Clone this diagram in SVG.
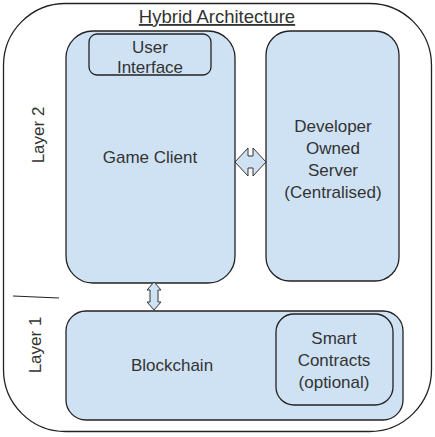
<svg xmlns="http://www.w3.org/2000/svg" width="435" height="437" viewBox="0 0 435 437">
<style>
.box{fill:#cfe2f3;stroke:#222;stroke-width:1.3}
.inner{fill:none;stroke:#222;stroke-width:1.3}
.t{font-family:"Liberation Sans",Arial,sans-serif;font-size:17px;fill:#333;text-anchor:middle}
.title{font-size:18.5px}
.arr{fill:#cfe2f3;stroke:#333;stroke-width:1}
</style>
<rect width="435" height="437" fill="#fff"/>
<g id="frame">
<rect x="3.5" y="3.5" width="428" height="428" rx="62" fill="none" stroke="#222" stroke-width="1.3"/>
<text class="t title" x="217" y="23" text-decoration="underline">Hybrid Architecture</text>
<line x1="13" y1="296" x2="59" y2="298" stroke="#222" stroke-width="1.2"/>
<text class="t" transform="translate(38,135) rotate(-90)" x="0" y="6">Layer 2</text>
<text class="t" transform="translate(35,345) rotate(-90)" x="0" y="6">Layer 1</text>
</g>
<g id="game-client">
<rect class="box" x="66" y="31" width="169" height="252" rx="27"/>
<text class="t" x="150" y="163">Game Client</text>
</g>
<g id="user-interface">
<rect class="inner" x="89" y="34" width="122" height="41" rx="8"/>
<text class="t" x="150" y="53">User</text>
<text class="t" x="150" y="73">Interface</text>
</g>
<g id="server">
<rect class="box" x="266" y="31" width="133" height="250" rx="24"/>
<text class="t" x="333" y="132">Developer</text>
<text class="t" x="333" y="154">Owned</text>
<text class="t" x="333" y="176">Server</text>
<text class="t" x="333" y="198">(Centralised)</text>
</g>
<g id="blockchain">
<rect class="box" x="66" y="311" width="337" height="109" rx="20"/>
<text class="t" x="172" y="371">Blockchain</text>
</g>
<g id="smart-contracts">
<rect class="inner" x="276" y="314" width="117" height="91" rx="18"/>
<text class="t" x="334" y="344">Smart</text>
<text class="t" x="334" y="366">Contracts</text>
<text class="t" x="334" y="388">(optional)</text>
</g>
<g id="connectors">
<path class="arr" d="M235,162 L248,148 L248,156 L253,156 L253,148 L266,162 L253,176 L253,168 L248,168 L248,176 Z"/>
<path class="arr" d="M154,282 L161,290 L158,290 L158,302 L161,302 L154,310 L147,302 L150,302 L150,290 L147,290 Z"/>
</g>
</svg>
